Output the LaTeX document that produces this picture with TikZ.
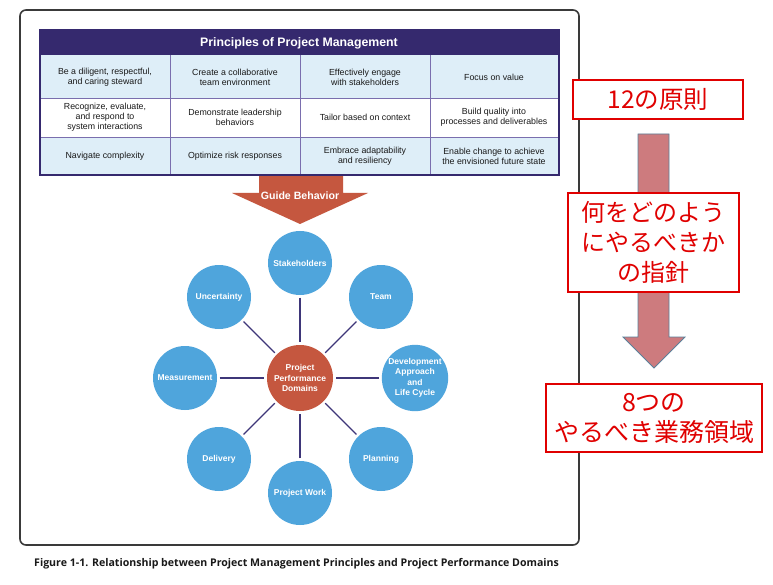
\documentclass[tikz,border=0pt]{standalone}
\usepackage{fontspec}
\setmainfont{Liberation Sans}
\newfontfamily\jp{Noto Sans CJK JP}
\newfontfamily\capfont{Open Sans}
\definecolor{hdr}{HTML}{35296E}
\definecolor{cellblue}{HTML}{DEEEF8}
\definecolor{gridc}{HTML}{7A6EAE}
\definecolor{domblue}{HTML}{4FA5DC}
\definecolor{domred}{HTML}{C5573F}
\definecolor{linkc}{HTML}{3E3679}
\definecolor{framec}{HTML}{3A3A3A}
\definecolor{jpred}{HTML}{E00000}
\definecolor{pinkarrow}{HTML}{CD7B7E}
\definecolor{arrowedge}{HTML}{5A8099}
\begin{document}
\begin{tikzpicture}[x=1pt,y=-1pt,
  cell/.style={align=center, font=\fontsize{8.8}{10.2}\selectfont, inner sep=0pt, text=black!90},
  dom/.style={circle, fill=domblue, minimum size=64pt, inner sep=0pt, text=white,
    font=\bfseries\fontsize{8.5}{10.5}\selectfont, align=center},
  hub/.style={dom, fill=domred, minimum size=66pt},
  link/.style={draw=linkc, line width=1.4pt, shorten >=2.5pt, shorten <=2.5pt},
  jpbox/.style={draw=jpred, line width=1.2pt, fill=white, text=jpred, inner sep=0pt,
    font=\jp\fontsize{24}{30}\selectfont, align=center}]
\useasboundingbox (0,0) rectangle (773,585);
\fill[white] (0,0) rectangle (773,585);
% frame
\draw[framec, line width=1.6pt, rounded corners=6pt] (20,10) rectangle (579,545);
% guide behavior arrow
\fill[domred] (259,170) -- (343,170) -- (343,193) -- (368,193) -- (300,224) -- (232,193) -- (259,193) -- cycle;
\node[text=white, font=\bfseries\fontsize{10.6}{12}\selectfont, inner sep=0pt] (guide) at (300,196) {Guide Behavior};
% table
\fill[hdr] (40,30) rectangle (559,55);
\fill[cellblue] (40,55) rectangle (559,98);
\fill[white] (40,98) rectangle (559,137);
\fill[cellblue] (40,137) rectangle (559,175);
\draw[gridc, line width=0.8pt] (40,98) -- (559,98) (40,137) -- (559,137)
  (170,55) -- (170,175) (300,55) -- (300,175) (430,55) -- (430,175);
\draw[hdr, line width=1.2pt] (40,30) rectangle (559,175);
\node[text=white, font=\bfseries\fontsize{12.3}{14}\selectfont, inner sep=0pt] (title) at (299,43) {Principles of Project Management};
\node[cell] (c11) at (105,77) {Be a diligent, respectful,\\and caring steward};
\node[cell] (c12) at (235,77) {Create a collaborative\\team environment};
\node[cell] (c13) at (365,77) {Effectively engage\\with stakeholders};
\node[cell] (c14) at (494,77) {Focus on value};
\node[cell] (c21) at (105,117.5) {Recognize, evaluate,\\and respond to\\system interactions};
\node[cell] (c22) at (235,117.5) {Demonstrate leadership\\behaviors};
\node[cell] (c23) at (365,117.5) {Tailor based on context};
\node[cell] (c24) at (494,117.5) {Build quality into\\processes and deliverables};
\node[cell] (c31) at (105,156) {Navigate complexity};
\node[cell] (c32) at (235,156) {Optimize risk responses};
\node[cell] (c33) at (365,156) {Embrace adaptability\\and resiliency};
\node[cell] (c34) at (494,156) {Enable change to achieve\\the envisioned future state};
% domains
\node[hub] (ppd) at (300,378) {Project\\Performance\\Domains};
\node[dom] (stk) at (300,263) {Stakeholders};
\node[dom] (team) at (381,297) {Team};
\node[dom] (dev) at (415,378) {Development\\Approach\\and\\Life Cycle};
\node[dom] (plan) at (381,459) {Planning};
\node[dom] (work) at (300,493) {Project Work};
\node[dom] (deliv) at (219,459) {Delivery};
\node[dom] (meas) at (185,378) {Measurement};
\node[dom] (unc) at (219,297) {Uncertainty};
\foreach \n in {stk,team,dev,plan,work,deliv,meas,unc}
  \draw[link] (\n) -- (ppd);
% right side
\filldraw[fill=pinkarrow, draw=arrowedge, line width=0.8pt]
  (638,134) -- (669,134) -- (669,337) -- (685,337) -- (654,368) -- (623,337) -- (638,337) -- cycle;
\node[jpbox, minimum width=170pt, minimum height=39pt, font=\jp\fontsize{24.5}{30}\selectfont] (b1) at (658,99.5) {12の原則};
\node[jpbox, minimum width=171pt, minimum height=99pt] (b2) at (653.5,242.5) {何をどのよう\\にやるべきか\\の指針};
\node[jpbox, minimum width=216pt, minimum height=68pt, font=\jp\fontsize{25}{30}\selectfont] (b3) at (654,418) {8つの\\やるべき業務領域};
% caption
\node[anchor=west, inner sep=0pt, font=\capfont\bfseries\fontsize{10.6}{12}\selectfont, text=black!90] (cap) at (34,564) {Figure 1-1. Relationship between Project Management Principles and Project Performance Domains};
\end{tikzpicture}
\end{document}
